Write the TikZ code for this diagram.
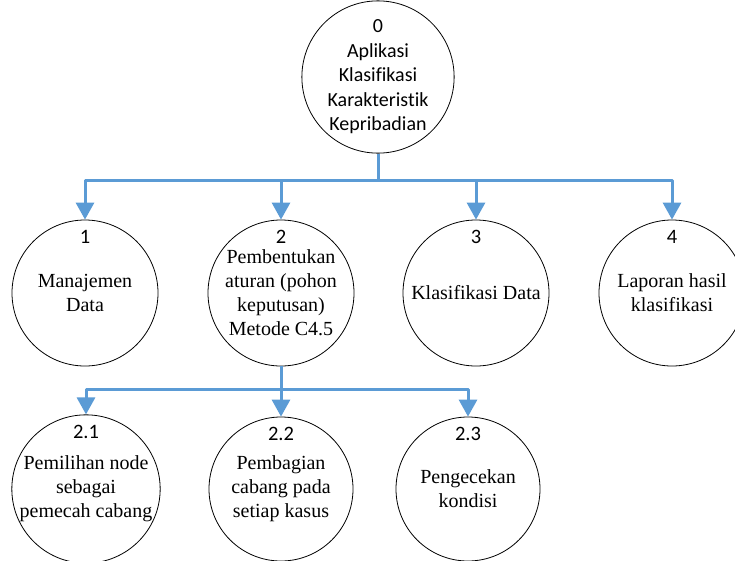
\documentclass[tikz,border=0pt]{standalone}
\usepackage{fontspec}
\setmainfont[Ligatures=NoCommon]{Liberation Serif}
\newfontfamily\numfont[Ligatures=NoCommon]{Carlito}
\usetikzlibrary{arrows.meta}

\definecolor{flowblue}{RGB}{91,155,213}

\tikzset{
  proc/.style={circle, draw=black, line width=0.8pt, minimum size=146pt, inner sep=0pt,
               align=center, font=\fontsize{20}{24}\selectfont},
  subproc/.style={proc, minimum size=144pt},
  topproc/.style={proc, font=\numfont\fontsize{20}{24.5}\selectfont},
  num/.style={inner sep=0pt, font=\numfont\fontsize{20.5}{24}\selectfont},
  flow/.style={draw=flowblue, line width=3pt, line cap=butt,
               -{Triangle[width=18pt,length=17pt]}}
}

\begin{document}
\begin{tikzpicture}[x=1pt, y=-1pt, line join=round]

  %% ════ 顶层过程 ════
  \node[topproc] (p0) at (378.0,77.0) {0\\Aplikasi\\Klasifikasi\\Karakteristik\\Kepribadian};

  %% ════ 第一层 ════
  \node[proc] (p1) at (85.0,293.0)  {Manajemen\\Data};
  \node[proc] (p2) at (281.0,293.0) {Pembentukan\\aturan (pohon\\keputusan)\\Metode C4.5};
  \node[proc] (p3) at (476.0,293.0) {Klasifikasi Data};
  \node[proc] (p4) at (672.0,293.0) {Laporan hasil\\klasifikasi};

  %% ════ 第二层（2 的子过程）════
  \node[subproc] (p21) at (86.0,489.0)  {Pemilihan node\\sebagai\\pemecah cabang};
  \node[subproc] (p22) at (281.0,489.0) {Pembagian\\cabang pada\\setiap kasus};
  \node[subproc] (p23) at (468.0,489.0) {Pengecekan\\kondisi};

  %% ════ 编号 ════
  \node[num] (n1) at ([yshift=-17pt]p1.north) {1};
  \node[num] (n2) at ([yshift=-17pt]p2.north) {2};
  \node[num] (n3) at ([yshift=-17pt]p3.north) {3};
  \node[num] (n4) at ([yshift=-17pt]p4.north) {4};
  \node[num] (n21) at ([yshift=-17pt]p21.north) {2.1};
  \node[num] (n22) at ([yshift=-17pt]p22.north) {2.2};
  \node[num] (n23) at ([yshift=-17pt]p23.north) {2.3};

  %% ════ 连线 ════
  \draw[flow] (p0.south) -- ++(0,27) -| (p1.north);
  \draw[flow] (p0.south) -- ++(0,27) -| (p2.north);
  \draw[flow] (p0.south) -- ++(0,27) -| (p3.north);
  \draw[flow] (p0.south) -- ++(0,27) -| (p4.north);

  \draw[flow] (p2.south) -- ++(0,23) -| (p21.north);
  \draw[flow] (p2.south) -- ++(0,23) -| (p22.north);
  \draw[flow] (p2.south) -- ++(0,23) -| (p23.north);

  % 画布固定为 735x560
  \pgfresetboundingbox
  \path[use as bounding box] (0,0) rectangle (735,560);
\end{tikzpicture}
\end{document}
